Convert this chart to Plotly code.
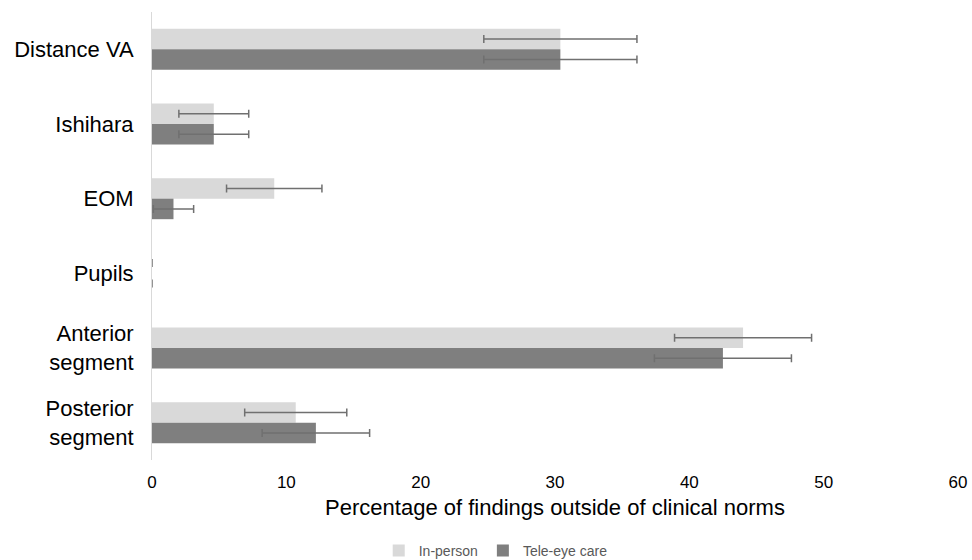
import plotly.graph_objects as go

categories = ["Distance VA", "Ishihara", "EOM", "Pupils", "Anterior<br>segment", "Posterior<br>segment"]
in_person = [30.4, 4.6, 9.1, 0.0, 44.0, 10.7]
in_person_err = [5.7, 2.6, 3.55, 0.0, 5.1, 3.8]
tele = [30.4, 4.6, 1.6, 0.0, 42.5, 12.2]
tele_err = [5.7, 2.6, 1.5, 0.0, 5.1, 4.0]
x_ticks = [0, 10, 20, 30, 40, 50, 60]

err_style = dict(type="data", visible=True, color="#707070", thickness=1.5, width=4)

fig = go.Figure()
fig.add_trace(go.Bar(
    y=categories, x=in_person, orientation="h", name="In-person",
    marker=dict(color="#d9d9d9", line=dict(width=0)),
    error_x=dict(array=in_person_err, **err_style),
))
fig.add_trace(go.Bar(
    y=categories, x=tele, orientation="h", name="Tele-eye care",
    marker=dict(color="#7f7f7f", line=dict(width=0)),
    error_x=dict(array=tele_err, **err_style),
))

fig.update_layout(
    width=972, height=560,
    margin=dict(l=152, r=14, t=12, b=100, autoexpand=False),
    paper_bgcolor="white", plot_bgcolor="white",
    barmode="group", bargap=0.45, bargroupgap=0,
    font=dict(family="Liberation Sans, Arial, sans-serif", color="black"),
    showlegend=True,
    legend=dict(orientation="h", x=0.51, xref="container", xanchor="center",
                y=-0.203, yref="paper", yanchor="middle", itemwidth=30,
                font=dict(size=14, color="#595959"), traceorder="normal"),
    xaxis=dict(range=[0, 60], tickvals=x_ticks, showgrid=False, zeroline=False,
               showline=False, ticks="", tickfont=dict(size=17), automargin=False,
               ticklabelstandoff=10,
               title=dict(text="Percentage of findings outside of clinical norms",
                          font=dict(size=22), standoff=8)),
    yaxis=dict(autorange="reversed", showgrid=False, showline=True, linecolor="#d9d9d9",
               linewidth=1, ticks="", tickfont=dict(size=22), ticklabelstandoff=13,
               zeroline=False, automargin=False),
)

fig.write_html(
    "out.html",
    config={"displayModeBar": False},
    post_script="document.body.style.margin='0';document.body.style.overflow='hidden';",
)
